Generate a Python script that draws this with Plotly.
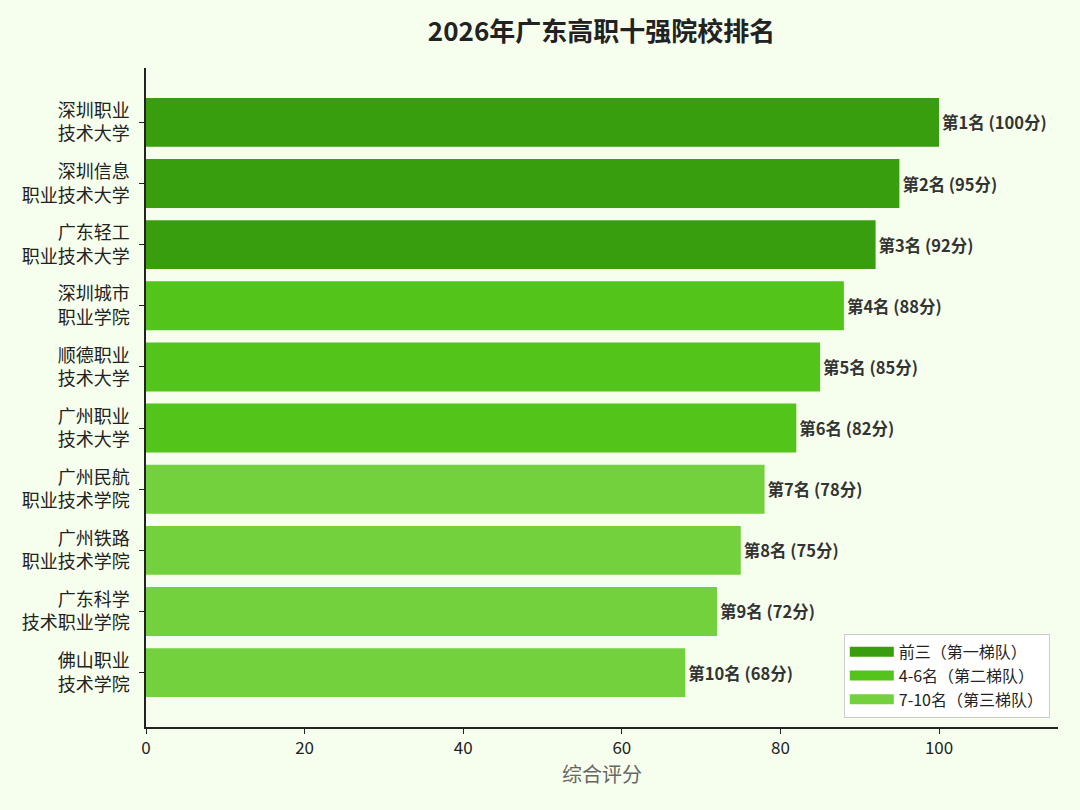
import plotly.graph_objects as go

# -------------------------
# DATA
# -------------------------
schools = [
    "深圳职业<br>技术大学", "深圳信息<br>职业技术大学", "广东轻工<br>职业技术大学",
    "深圳城市<br>职业学院", "顺德职业<br>技术大学", "广州职业<br>技术大学",
    "广州民航<br>职业技术学院", "广州铁路<br>职业技术学院", "广东科学<br>技术职业学院",
    "佛山职业<br>技术学院",
]
scores = [100, 95, 92, 88, 85, 82, 78, 75, 72, 68]
ranks = [1, 2, 3, 4, 5, 6, 7, 8, 9, 10]

tiers = [
    ("前三（第一梯队）", 0, 3, "#389e0d"),
    ("4-6名（第二梯队）", 3, 6, "#52c41a"),
    ("7-10名（第三梯队）", 6, 10, "#73d13d"),
]

FONT = "Noto Sans CJK SC"

fig = go.Figure()

for name, lo, hi, color in tiers:
    fig.add_trace(go.Bar(
        x=scores[lo:hi],
        y=schools[lo:hi],
        orientation="h",
        name=name,
        showlegend=False,
        marker=dict(color=color, line=dict(width=0)),
        width=0.8,
        text=[f"<b>第{r}名 ({s}分)</b>" for r, s in zip(ranks[lo:hi], scores[lo:hi])],
        textposition="outside",
        textfont=dict(family=FONT, size=16.5, color="#333333"),
        cliponaxis=False,
        hoverinfo="x+y",
    ))

# legend-only entries drawn as thick lines so the swatches are wide rectangles
for name, lo, hi, color in tiers:
    fig.add_trace(go.Scatter(
        x=[None], y=[None], mode="lines", name=name, legendgroup=name,
        line=dict(color=color, width=14),
        hoverinfo="skip",
    ))

fig.update_layout(
    width=1080, height=810,
    barmode="overlay",
    paper_bgcolor="#f6ffed",
    plot_bgcolor="#f6ffed",
    font=dict(family=FONT, size=18, color="#222222"),
    title=dict(text="<b>2026年广东高职十强院校排名</b>", x=0.557, xanchor="center",
               y=0.9605, yanchor="middle", font=dict(size=26, color="#222222")),
    margin=dict(l=146, r=22, t=68, b=83),
    legend=dict(x=0.991, y=0.014, xanchor="right", yanchor="bottom",
                bgcolor="white", bordercolor="#cccccc", borderwidth=1,
                font=dict(size=16, color="#222222"), traceorder="normal",
                itemwidth=44, tracegroupgap=4),
    showlegend=True,
)

fig.update_xaxes(
    range=[0, 115], tickvals=[0, 20, 40, 60, 80, 100],
    showgrid=False, zeroline=False,
    showline=True, linecolor="#222222", linewidth=1.5,
    ticks="outside", ticklen=5, tickcolor="#222222",
    tickfont=dict(size=17),
    title=dict(text="综合评分", font=dict(size=20, color="#666666"), standoff=8),
)
fig.update_yaxes(
    categoryorder="array", categoryarray=schools,
    range=[9.89, -0.89],
    showgrid=False, zeroline=False,
    showline=True, linecolor="#222222", linewidth=1.5,
    ticks="outside", ticklen=5, tickcolor="#222222",
    tickfont=dict(size=18), ticklabelstandoff=6,
)

# drop the page's default body margin so the figure fills the window
fig.write_html("out.html", config={"displayModeBar": False},
               post_script="document.body.style.margin='0';")
